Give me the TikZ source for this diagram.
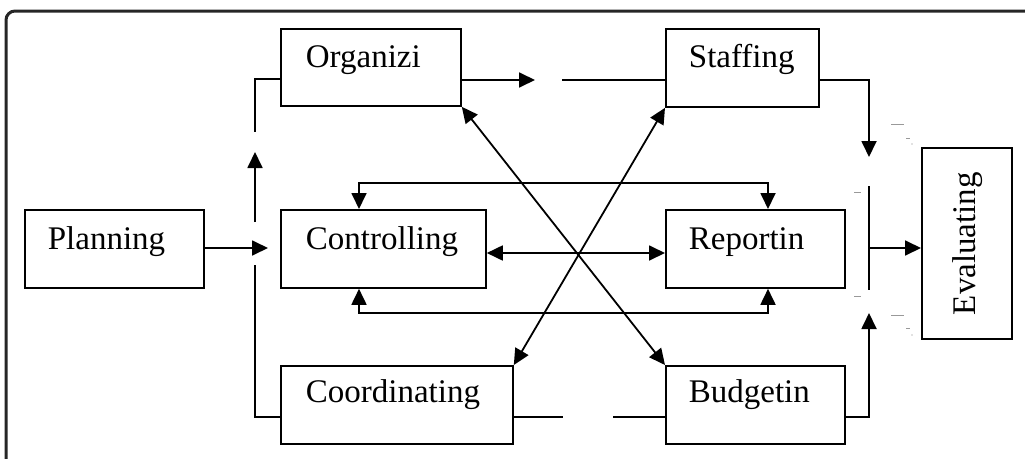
\documentclass[tikz,border=0pt]{standalone}
\usepackage{fontspec}
\setmainfont{Liberation Serif}
\usetikzlibrary{arrows.meta}
\begin{document}
\begin{tikzpicture}[x=1pt,y=-1pt,
  line width=1.8pt,
  boxn/.style={draw, line width=1.8pt, inner sep=0pt, anchor=north west},
  lbl/.style={inner sep=0pt, anchor=base west, font=\fontsize{33}{36}\selectfont},
  arr/.style={-{Triangle[length=16pt,width=15pt]}},
  darr/.style={{Triangle[length=16pt,width=15pt]}-{Triangle[length=16pt,width=15pt]}},
  tick/.style={draw=gray!80, line width=0.8pt}]
\useasboundingbox (0,0) rectangle (1025,458);
\begin{scope}
  \clip (0,0) rectangle (1025,458);
  \draw[line width=3pt, rounded corners=9pt, draw=black!85] (6,11) rectangle (1040,475);
\end{scope}

% boxes
\node[boxn, minimum width=179pt, minimum height=78pt] (plan) at (24,209) {};
\node[boxn, minimum width=180pt, minimum height=77pt] (org) at (280,28) {};
\node[boxn, minimum width=153pt, minimum height=78pt] (staff) at (665,28) {};
\node[boxn, minimum width=205pt, minimum height=78pt] (ctrl) at (280,209) {};
\node[boxn, minimum width=179pt, minimum height=78pt] (rep) at (665,209) {};
\node[boxn, minimum width=232pt, minimum height=78pt] (coord) at (280,365) {};
\node[boxn, minimum width=179pt, minimum height=78pt] (bud) at (665,365) {};
\node[boxn, minimum width=90pt, minimum height=191pt] (eval) at (921,147) {};

% labels
\node[lbl] (planT) at (47,249) {Planning};
\node[lbl] (orgT) at (305,67) {Organizi};
\node[lbl] (staffT) at (688,67) {Staffing};
\node[lbl] (ctrlT) at (305,249) {Controlling};
\node[lbl] (repT) at (688,249) {Reportin};
\node[lbl] (coordT) at (305,402) {Coordinating};
\node[lbl] (budT) at (688,402) {Budgetin};
\node[lbl, rotate=90] (evalT) at (975,316) {Evaluating};

% coordinates
\coordinate (a1) at (255,79);
\coordinate (a2) at (255,132);
\coordinate (a3) at (255,222);
\coordinate (a4) at (255,152);
\coordinate (a5) at (255,265);
\coordinate (a6) at (255,417);
\coordinate (j1) at (268,248);
\coordinate (b1) at (535,80);
\coordinate (b2) at (562,80);
\coordinate (c1) at (869,80);
\coordinate (c2) at (869,157);
\coordinate (c3) at (869,186);
\coordinate (c4) at (869,290);
\coordinate (c5) at (869,248);
\coordinate (c6) at (869,417);
\coordinate (c7) at (869,313);
\coordinate (d1) at (563,417);
\coordinate (d2) at (613,417);
\coordinate (e1) at (575,253);
\coordinate (f1) at (359,183);
\coordinate (f2) at (768,183);
\coordinate (g1) at (359,313);
\coordinate (g2) at (768,313);

% connectors
\draw[arr] (plan.east |- j1) -- (j1);
\draw (org.west |- a1) -- (a1) -- (a2);
\draw[arr] (a3) -- (a4);
\draw (a5) -- (a6) -- (coord.west |- a6);
\draw[arr] (org.east |- b1) -- (b1);
\draw (b2) -- (staff.west |- b2);
\draw[arr] (staff.east |- c1) -- (c1) -- (c2);
\draw (c3) -- (c4);
\draw[arr] (c5) -- (eval.west |- c5);
\draw[arr] (bud.east |- c6) -- (c6) -- (c7);
\draw (coord.east |- d1) -- (d1);
\draw (d2) -- (bud.west |- d2);
\draw[darr] (ctrl.east |- e1) -- (rep.west |- e1);
\draw[darr] (ctrl.north -| f1) -- (f1) -- (f2) -- (rep.north -| f2);
\draw[darr] (ctrl.south -| g1) -- (g1) -- (g2) -- (rep.south -| g2);
\draw[darr] (org.south east) -- (bud.north west);
\draw[darr] (staff.south west) -- (coord.north east);

% faint scan marks
\draw[tick] (891,124) -- (904,124);
\draw[tick] (906,138) -- (910,138);
\fill[gray] (912,144) circle (0.6pt);
\draw[tick] (854,192) -- (861,192);
\draw[tick] (854,296) -- (861,296);
\draw[tick] (891,315) -- (904,315);
\draw[tick] (906,328) -- (910,328);
\fill[gray] (912,335) circle (0.6pt);
\end{tikzpicture}
\end{document}
